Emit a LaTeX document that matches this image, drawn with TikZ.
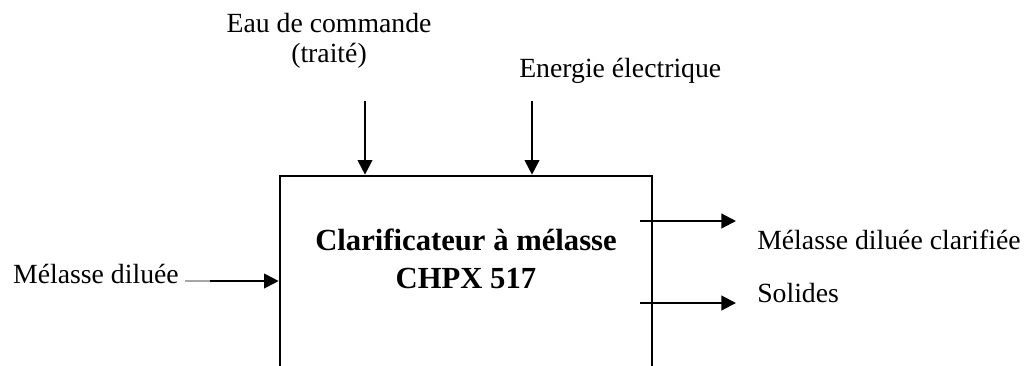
\documentclass[tikz,border=0pt]{standalone}
\usepackage{fontspec}
\setmainfont{Liberation Serif}
\usetikzlibrary{arrows.meta,fit}

\tikzset{
  flux/.style={line width=1.6pt,-{Triangle[length=11pt,width=11pt]}},
  boite/.style={draw,line width=2pt,inner sep=0pt},
  etiq/.style={inner sep=0pt}
}

\begin{document}
\begin{tikzpicture}[x=0.75pt,y=-0.75pt, every node/.style={font=\fontsize{20.8}{22.5}\selectfont}]
\useasboundingbox (0,0) rectangle (1028,365);
\clip (0,0) rectangle (1028,365);
% bloc principal (ouvert vers le bas)
\node[boite,fit={(280,176) (652,430)}] (clar) {};
\node[etiq,align=center,font=\fontsize{23}{28.3}\selectfont\bfseries,anchor=base] (titre) at (466,288) {Clarificateur à mélasse\\CHPX 517};
% entrees du haut
\node[etiq,align=center,anchor=base] (eau) at (329,62) {Eau de commande\\(traité)};
\node[etiq,anchor=base west] (elec) at (519,77) {Energie électrique};
\coordinate (eauA) at (365,101);
\coordinate (elecA) at (532,101);
\draw[flux] (eauA) -- (eauA |- clar.north);
\draw[flux] (elecA) -- (elecA |- clar.north);
% entree gauche
\node[etiq,anchor=base east] (mel) at (179,283) {Mélasse diluée};
\coordinate (melA) at (185,281);
\coordinate (melB) at (210,281);
\draw[line width=1.6pt,gray!70] (melA) -- (melB);
\draw[flux] (melB) -- (melB -| clar.west);
% sorties droite
\node[etiq,anchor=base west] (clarif) at (757,249) {Mélasse diluée clarifiée};
\node[etiq,anchor=base west] (sol) at (757,302) {Solides};
\coordinate (sortA) at (640,221);
\coordinate (sortAf) at (736,221);
\coordinate (sortB) at (640,303);
\coordinate (sortBf) at (736,303);
\draw[flux] (sortA) -- (sortAf);
\draw[flux] (sortB) -- (sortBf);
\end{tikzpicture}
\end{document}
